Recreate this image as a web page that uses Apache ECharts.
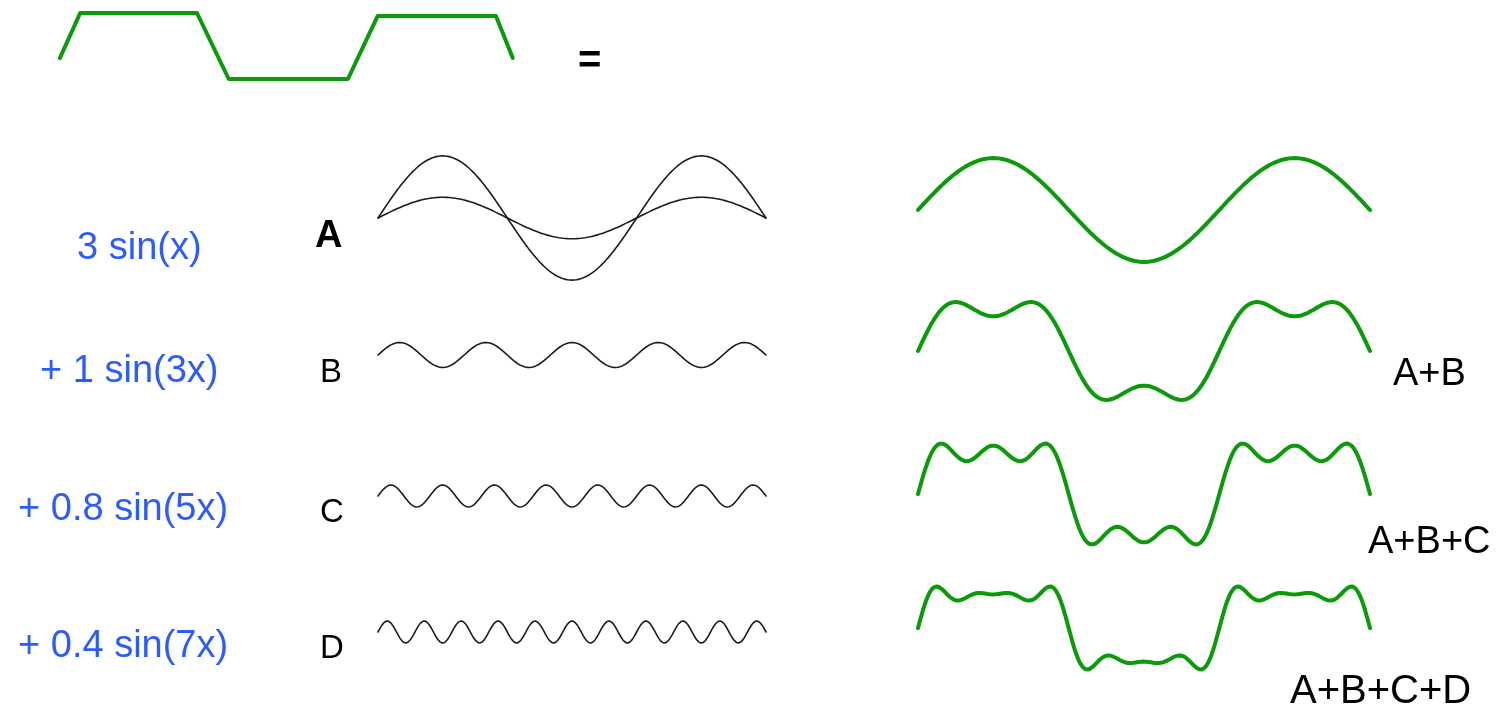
<!DOCTYPE html>
<html>
<head>
<meta charset="utf-8">
<script src="https://cdn.jsdelivr.net/npm/echarts@6/dist/echarts.min.js"></script>
<style>
html,body{margin:0;padding:0;background:#fff;}
#chart{width:1502px;height:716px;}
</style>
</head>
<body>
<div id="chart"></div>
<script>
// ---- data ----
const termNames   = ['A', 'B', 'C', 'D'];
const termLabels  = ['3 sin(x)', '+ 1 sin(3x)', '+ 0.8 sin(5x)', '+ 0.4 sin(7x)'];
const amplitudes  = [3, 1, 0.8, 0.4];      // coefficients written in the picture
const harmonics   = [1, 3, 5, 7];          // sin(x), sin(3x), sin(5x), sin(7x)
const referenceAmplitude = 1;              // the thin 1·sin(x) drawn with A
const sumLabels   = ['', 'A+B', 'A+B+C', 'A+B+C+D'];
const xExtent     = [0, 3 * Math.PI];      // 1.5 periods shown in every panel
// target square-ish wave at the top (x in radians, y normalised)
const squareX = [0, 0.42, 2.85, 3.51, 5.99, 6.61, 9.07, 9.42];
const squareY = [-0.36, 1, 1, -1, -1, 0.91, 0.91, -0.36];

// ---- sampling of the stated sine terms ----
const N = 720;
const xs = [];
for (let i = 0; i <= N; i++) xs.push(xExtent[0] + (xExtent[1] - xExtent[0]) * i / N);
function term(k, amp) {
  return xs.map(x => [x, amp * Math.sin(harmonics[k] * x)]);
}
function partialSum(n) {
  return xs.map(x => {
    let s = 0;
    for (let k = 0; k <= n; k++) s += amplitudes[k] * Math.sin(harmonics[k] * x);
    return [x, s];
  });
}

// ---- layout ----
const GREEN = '#0a9a0a';
const BLACK = '#1c1c1c';
const BLUE = '#2b5cff';
const FONT = '"Liberation Sans", Arial, sans-serif';

const grids = [], xAxes = [], yAxes = [], series = [];
function addPanel(left, width, top, height, yHalf, datas, color, lw) {
  const gi = grids.length;
  grids.push({left: left, top: top, width: width, height: height, containLabel: false, show: false});
  xAxes.push({type: 'value', gridIndex: gi, min: xExtent[0], max: xExtent[1], show: false});
  yAxes.push({type: 'value', gridIndex: gi, min: -yHalf, max: yHalf, show: false});
  datas.forEach(d => series.push({
    type: 'line', xAxisIndex: gi, yAxisIndex: gi, data: d, showSymbol: false,
    symbol: 'none', lineStyle: {color: color, width: lw, join: 'round', cap: 'round'},
    silent: true, animation: false
  }));
}

// top target wave
addPanel(60, 453, 13, 66, 1, [squareX.map((x, i) => [x, squareY[i]])], GREEN, 4);

// middle column: individual terms
const midLeft = 378, midWidth = 388;
const midPanels = [
  {top: 148, height: 140, half: 3.38},
  {top: 335, height: 40, half: 1.6},
  {top: 476, height: 40, half: 1.4545},
  {top: 612, height: 40, half: 0.727}
];
midPanels.forEach((p, k) => {
  const d = [term(k, amplitudes[k])];
  if (k === 0) d.push(term(0, referenceAmplitude));
  addPanel(midLeft, midWidth, p.top, p.height, p.half, d, BLACK, 1.6);
});

// right column: partial sums
const rightLeft = 918, rightWidth = 452;
const rightPanels = [
  {top: 150, height: 120, half: 3.468},
  {top: 291, height: 120, half: 3.468},
  {top: 434, height: 120, half: 3.468},
  {top: 578, height: 100, half: 3.571}
];
rightPanels.forEach((p, n) => {
  addPanel(rightLeft, rightWidth, p.top, p.height, p.half, [partialSum(n)], GREEN, 4);
});

// ---- text ----
const graphics = [];
function txt(text, x, y, size, color, weight) {
  graphics.push({
    type: 'text', x: x, y: y, silent: true,
    style: {
      text: text, fill: color, font: (weight || 'normal') + ' ' + size + 'px ' + FONT,
      fontSize: size, fontFamily: FONT, fontWeight: weight || 'normal',
      textAlign: 'left', textVerticalAlign: 'middle', align: 'left', verticalAlign: 'middle'
    }
  });
}
txt('=', 578, 62, 40, '#000', 'bold');
const termLabelPos = [[77, 249], [40, 372], [18, 510], [18, 647]];
termLabels.forEach((t, i) => txt(t, termLabelPos[i][0], termLabelPos[i][1], 38, BLUE));
const namePos = [[315, 237], [320, 373], [320, 513], [320, 649]];
termNames.forEach((t, i) => txt(t, namePos[i][0], namePos[i][1], i === 0 ? 38 : 33, '#000', i === 0 ? 'bold' : 'normal'));
const sumPos = [null, [1393, 375], [1368, 543], [1290, 692]];
const sumSize = [0, 38, 38, 40];
sumLabels.forEach((t, i) => { if (t) txt(t, sumPos[i][0], sumPos[i][1], sumSize[i], '#000'); });

const chart = echarts.init(document.getElementById('chart'), null, {renderer: 'canvas'});
chart.setOption({
  animation: false,
  backgroundColor: '#fff',
  grid: grids, xAxis: xAxes, yAxis: yAxes, series: series,
  graphic: graphics
});
</script>
</body>
</html>
